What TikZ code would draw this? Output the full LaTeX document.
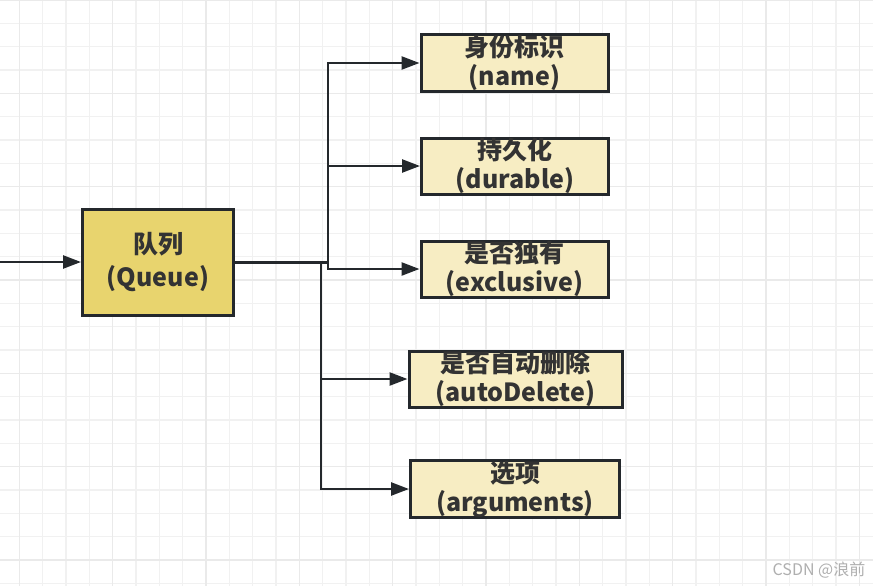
\documentclass[tikz,border=0pt]{standalone}
\usepackage{fontspec}
\setmainfont{Noto Sans CJK SC}
\usetikzlibrary{arrows.meta}
\definecolor{gridminor}{RGB}{241,241,241}
\definecolor{gridmajor}{RGB}{234,234,234}
\definecolor{inkdark}{RGB}{36,40,44}
\definecolor{textdark}{RGB}{51,51,51}
\definecolor{queuefill}{RGB}{232,212,110}
\definecolor{fieldfill}{RGB}{247,237,195}
\definecolor{marktext}{RGB}{175,175,175}

\begin{document}
\begin{tikzpicture}[x=1pt, y=-1pt,
    gridline/.style={draw=gridminor, line width=1.5pt},
    gridbold/.style={draw=gridmajor, line width=1.5pt},
    queuebox/.style={draw=inkdark, line width=3pt, fill=queuefill, inner sep=0pt,
                     minimum width=151pt, minimum height=106pt, align=center, text=textdark,
                     font=\bfseries\fontsize{25}{33}\selectfont},
    field/.style={draw=inkdark, line width=3pt, fill=fieldfill, inner sep=0pt,
                  minimum height=56pt, align=center, text=textdark,
                  font=\bfseries\fontsize{25}{29}\selectfont},
    arr/.style={-{Triangle[length=18pt,width=13pt]}, draw=inkdark, line width=2.5pt}]

    \useasboundingbox (0,0) rectangle (873,586);
    \fill[white] (0,0) rectangle (873,586);

    % grid
    \foreach \k in {0,...,38}
        \draw[gridline] ({-4+23.333*\k},0) -- ({-4+23.333*\k},586);
    \foreach \k in {0,...,25}
        \draw[gridline] (0,{23.333*\k}) -- (873,{23.333*\k});
    \foreach \k in {0,...,9}
        \draw[gridbold] ({19.33+93.333*\k},0) -- ({19.33+93.333*\k},586);
    \foreach \k in {0,...,6}
        \draw[gridbold] (0,{93.333*\k}) -- (873,{93.333*\k});

    % Queue
    \coordinate (in) at (0,262);
    \node[queuebox] (queue) at (158,262) {队列\\(Queue)};
    % Fields
    \node[field, minimum width=187pt] (name) at (514.5,63) {身份标识\\(name)};
    \node[field, minimum width=187pt] (durable) at (515,166) {持久化\\(durable)};
    \node[field, minimum width=187pt] (exclusive) at (514.5,269) {是否独有\\(exclusive)};
    \node[field, minimum width=213pt] (autodelete) at (515.5,379) {是否自动删除\\(autoDelete)};
    \node[field, minimum width=209pt] (args) at (515,489) {选项\\(arguments)};

    % junctions
    \coordinate (j1) at (328,262);
    \coordinate (j2) at (321,262);

    \draw[arr] (in) -- (queue.west);
    \draw[inkdark, line width=3pt] (queue.east) -- (j1);
    \foreach \f in {name,durable,exclusive}
        \draw[arr] (j1) |- (\f.west);
    \foreach \f in {autodelete,args}
        \draw[arr] (j2) |- (\f.west);

    \node[font=\fontsize{16}{16}\selectfont, text=marktext] (mark) at (819,570) {CSDN @浪前};
\end{tikzpicture}
\end{document}
